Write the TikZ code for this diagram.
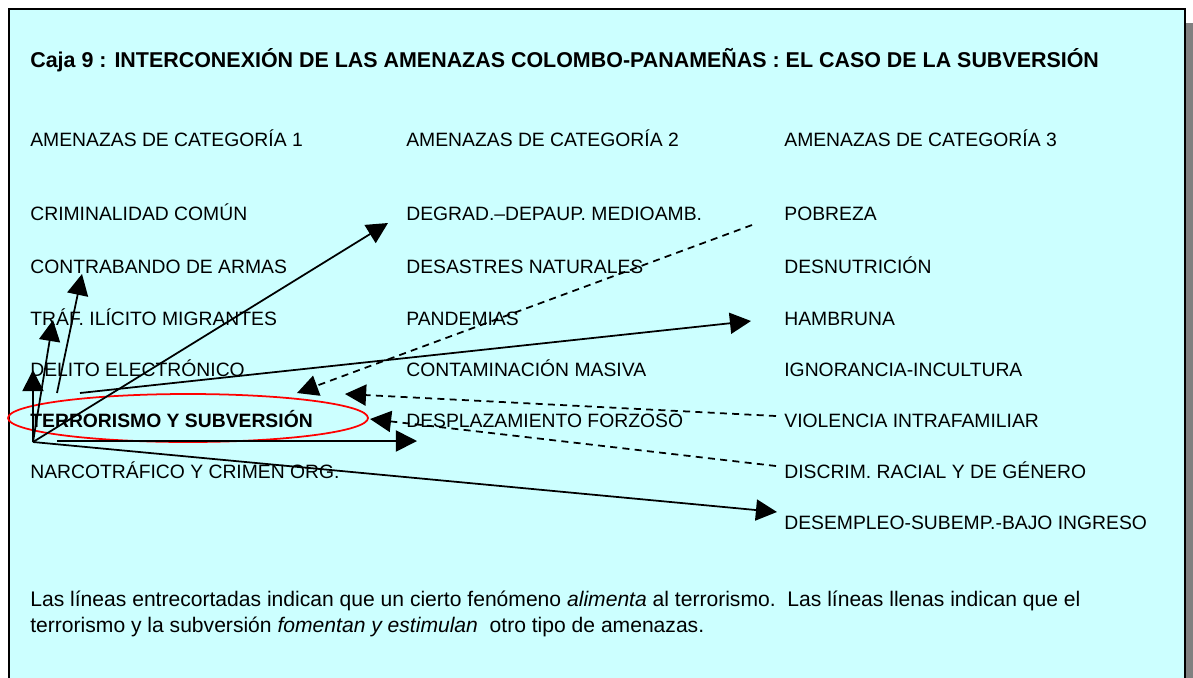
\documentclass[tikz,border=0pt]{standalone}
\usepackage{fontspec}
\setmainfont{Liberation Sans}
\usetikzlibrary{arrows.meta}
\definecolor{cajafondo}{RGB}{204,255,255}
\definecolor{sombra}{RGB}{128,128,128}
\tikzset{
  amenaza/.style={anchor=base west, inner sep=0pt, font=\fontsize{11}{13}\selectfont},
  nota/.style={anchor=base west, inner sep=0pt, font=\fontsize{12}{14}\selectfont},
  fomenta/.style={line width=1pt, -{Triangle[length=12pt,width=12pt]}},
  alimenta/.style={line width=1pt, dash pattern=on 4pt off 3pt, -{Triangle[length=12pt,width=12pt]}},
}

\begin{document}
\begin{tikzpicture}[x=0.02cm,y=-0.02cm]
				\useasboundingbox (0,0) rectangle (1193,677);
				\fill[sombra] (19,23) rectangle (1196,700);
				\draw[fill=cajafondo, line width=1.1pt] (9,9) rectangle (1185,690);
				
				\node[amenaza, font=\bfseries\fontsize{12.2}{14}\selectfont] (titulo) at (30,67) {Caja 9 : INTERCONEXIÓN DE LAS AMENAZAS COLOMBO-PANAMEÑAS : EL CASO DE LA SUBVERSIÓN};
				
				\node[amenaza] (cat1) at (30,146) {AMENAZAS DE CATEGORÍA 1};
				\node[amenaza] (cat2) at (406,146) {AMENAZAS DE CATEGORÍA 2};
				\node[amenaza] (cat3) at (784,146) {AMENAZAS DE CATEGORÍA 3};
				
				\node[amenaza] (crim) at (30,220) {CRIMINALIDAD COMÚN};
				\node[amenaza] (contra) at (30,273) {CONTRABANDO DE ARMAS};
				\node[amenaza] (traf) at (30,325) {TRÁF. ILÍCITO MIGRANTES};
				\node[amenaza] (delito) at (30,376) {DELITO ELECTRÓNICO};
				\node[amenaza, font=\bfseries\fontsize{11}{13}\selectfont] (terror) at (30,427) {TERRORISMO Y SUBVERSIÓN};
				\node[amenaza] (narco) at (30,478) {NARCOTRÁFICO Y CRIMEN ORG.};
				
				\node[amenaza] (degrad) at (406,220) {DEGRAD.–DEPAUP. MEDIOAMB.};
				\node[amenaza] (desastres) at (406,273) {DESASTRES NATURALES};
				\node[amenaza] (pandemias) at (406,325) {PANDEMIAS};
				\node[amenaza] (contam) at (406,376) {CONTAMINACIÓN MASIVA};
				\node[amenaza] (despl) at (406,427) {DESPLAZAMIENTO FORZOSO};
				
				\node[amenaza] (pobreza) at (784,220) {POBREZA};
				\node[amenaza] (desnut) at (784,273) {DESNUTRICIÓN};
				\node[amenaza] (hambruna) at (784,325) {HAMBRUNA};
				\node[amenaza] (ignor) at (784,376) {IGNORANCIA-INCULTURA};
				\node[amenaza] (violencia) at (784,427) {VIOLENCIA INTRAFAMILIAR};
				\node[amenaza] (discrim) at (784,478) {DISCRIM. RACIAL Y DE GÉNERO};
				\node[amenaza] (desempleo) at (784,529) {DESEMPLEO-SUBEMP.-BAJO INGRESO};
				
				\draw[red, line width=1pt] (188,418) ellipse [x radius=180, y radius=24];
				
				\coordinate (O) at (33,442);
				\coordinate (sContra) at (57,393);
				\coordinate (sHamb) at (80,393);
				\coordinate (sDespl) at (57,441);
				\coordinate (pDelito) at (33,370);
				\coordinate (pTraf) at (53,320);
				\coordinate (pContra) at (82,274);
				\coordinate (pDegrad) at (388,223);
				\coordinate (pHamb) at (751,321);
				\coordinate (pDespl) at (417,441);
				\coordinate (pDesem) at (777,512);
				
				\draw[fomenta] (O) -- (pDelito);
				\draw[fomenta] (O) -- (pTraf);
				\draw[fomenta] (sContra) -- (pContra);
				\draw[fomenta] (O) -- (pDegrad);
				\draw[fomenta] (sHamb) -- (pHamb);
				\draw[fomenta] (sDespl) -- (pDespl);
				\draw[fomenta] (O) -- (pDesem);
				
				\coordinate (sPob) at (752,225);
				\coordinate (sViol) at (776,416);
				\coordinate (sDisc) at (776,466);
				\coordinate (pPob) at (297,393);
				\coordinate (pViol) at (345,394);
				\coordinate (pDisc) at (370,419);
				
				\draw[alimenta] (sPob) -- (pPob);
				\draw[alimenta] (sViol) -- (pViol);
				\draw[alimenta] (sDisc) -- (pDisc);
				
				\node[nota] (nota1) at (30,606) {Las líneas entrecortadas indican que un cierto fenómeno \textit{alimenta} al terrorismo.\ \ Las líneas llenas indican que el};
				\node[nota] (nota2) at (30,632) {terrorismo y la subversión \textit{fomentan y estimulan}\ \ otro tipo de amenazas.};
			\end{tikzpicture}
\end{document}
